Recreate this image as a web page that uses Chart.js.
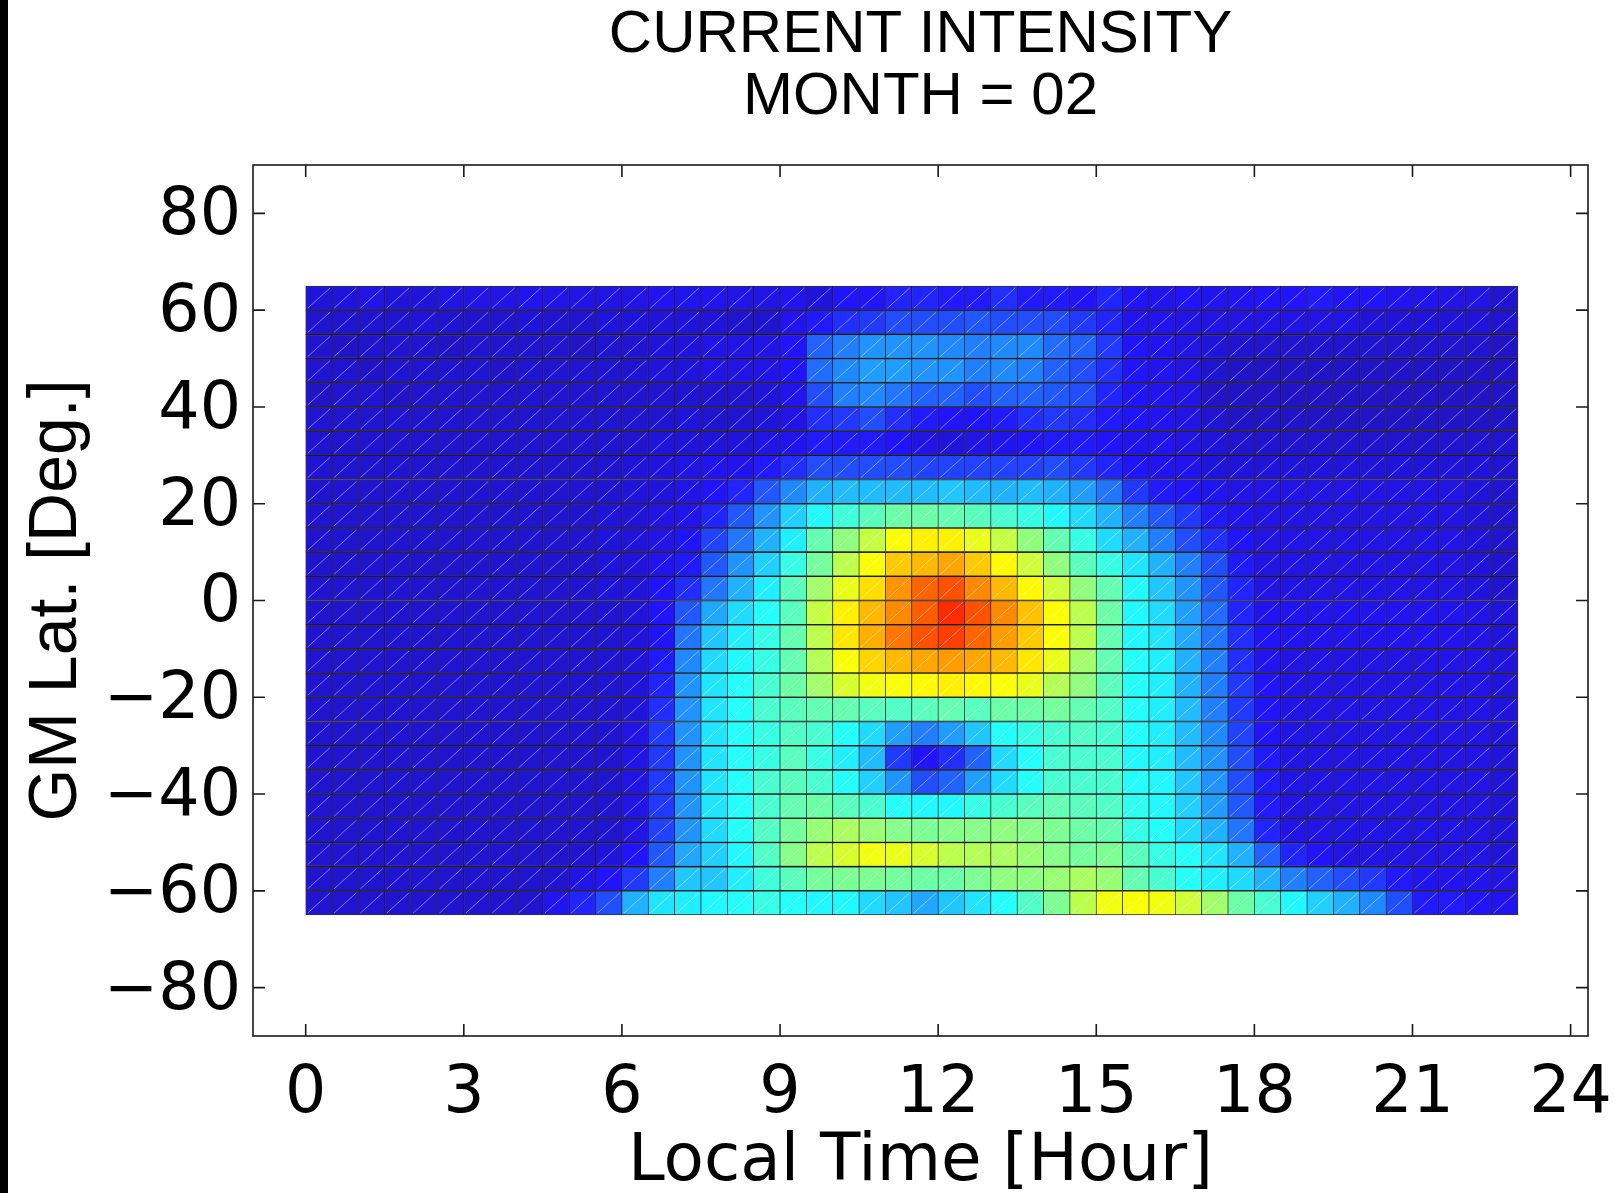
<!DOCTYPE html>
<html>
<head>
<meta charset="utf-8">
<title>Current Intensity - Month 02</title>
<script src="https://cdn.jsdelivr.net/npm/chart.js@4.4.0/dist/chart.umd.min.js"></script>
<style>
    html, body { margin: 0; padding: 0; background: #fff; }
    #wrap { position: relative; width: 1618px; height: 1193px; }
    #edge { position: absolute; left: 0; top: 0; width: 8px; height: 100%; background: #000; }
</style>
</head>
<body>
<div id="wrap">
    <canvas id="intensityChart" width="1618" height="1193"></canvas>
    <div id="edge"></div>
</div>

<script>
    // bin edges: local time (hours) and geomagnetic latitude (deg, north to south)
    var hourEdges = [0, 0.5, 1, 1.5, 2, 2.5, 3, 3.5, 4, 4.5, 5, 5.5, 6, 6.5, 7, 7.5, 8, 8.5, 9, 9.5, 10, 10.5, 11, 11.5,
        12, 12.5, 13, 13.5, 14, 14.5, 15, 15.5, 16, 16.5, 17, 17.5, 18, 18.5, 19, 19.5, 20, 20.5, 21, 21.5, 22, 22.5, 23];
    var latEdges = [65, 60, 55, 50, 45, 40, 35, 30, 25, 20, 15, 10, 5, 0, -5, -10, -15, -20, -25, -30, -35, -40, -45, -50, -55, -60, -65];

    var xTicks = [0, 3, 6, 9, 12, 15, 18, 21, 24];
    var yTicks = [-80, -60, -40, -20, 0, 20, 40, 60, 80];

    // normalised current intensity, one row per latitude band (top row = 60..65)
    var intensity = [
        [0.11,0.11,0.12,0.11,0.11,0.12,0.12,0.12,0.13,0.12,0.12,0.12,0.12,0.13,0.13, 0.13,0.12,0.12,0.13,0.11,0.14,0.14,0.16,0.16,0.15,0.15,0.17,0.15,0.15,0.14, 0.16,0.14,0.13,0.14,0.13,0.13,0.14,0.14,0.15,0.14,0.14,0.13,0.13,0.12,0.12,0.10],
        [0.10,0.10,0.10,0.10,0.11,0.10,0.10,0.10,0.11,0.10,0.10,0.11,0.11,0.11,0.11, 0.11,0.10,0.10,0.13,0.15,0.17,0.18,0.20,0.20,0.20,0.21,0.20,0.20,0.20,0.18, 0.16,0.13,0.13,0.12,0.12,0.12,0.12,0.12,0.12,0.12,0.11,0.11,0.11,0.11,0.11,0.10],
        [0.10,0.09,0.10,0.10,0.10,0.09,0.10,0.10,0.10,0.10,0.09,0.10,0.10,0.11,0.11, 0.12,0.12,0.12,0.14,0.22,0.25,0.27,0.27,0.27,0.26,0.25,0.26,0.26,0.23,0.22, 0.18,0.14,0.13,0.12,0.11,0.10,0.10,0.10,0.10,0.10,0.10,0.10,0.10,0.10,0.10,0.09],
        [0.10,0.10,0.09,0.10,0.10,0.10,0.10,0.09,0.10,0.10,0.10,0.10,0.10,0.11,0.11, 0.12,0.12,0.12,0.14,0.23,0.26,0.28,0.28,0.27,0.27,0.25,0.26,0.25,0.22,0.20, 0.17,0.14,0.13,0.12,0.10,0.09,0.09,0.09,0.09,0.09,0.09,0.09,0.09,0.09,0.09,0.09],
        [0.09,0.10,0.10,0.09,0.10,0.10,0.10,0.10,0.10,0.10,0.10,0.10,0.10,0.10,0.10, 0.10,0.10,0.11,0.13,0.20,0.25,0.26,0.24,0.22,0.22,0.20,0.22,0.22,0.21,0.20, 0.16,0.14,0.13,0.12,0.09,0.09,0.09,0.09,0.09,0.09,0.09,0.09,0.09,0.09,0.09,0.09],
        [0.10,0.10,0.10,0.10,0.10,0.10,0.10,0.10,0.10,0.10,0.10,0.10,0.10,0.10,0.11, 0.10,0.10,0.11,0.12,0.17,0.18,0.20,0.17,0.15,0.14,0.14,0.15,0.17,0.18,0.17, 0.15,0.14,0.13,0.12,0.10,0.09,0.09,0.09,0.09,0.09,0.09,0.09,0.09,0.09,0.09,0.09],
        [0.10,0.10,0.10,0.10,0.10,0.10,0.10,0.10,0.10,0.10,0.10,0.10,0.10,0.11,0.11, 0.11,0.11,0.12,0.13,0.15,0.15,0.15,0.14,0.12,0.11,0.12,0.13,0.14,0.15,0.15, 0.14,0.13,0.13,0.12,0.11,0.10,0.10,0.10,0.10,0.10,0.10,0.10,0.10,0.10,0.10,0.10],
        [0.10,0.10,0.10,0.10,0.10,0.10,0.10,0.10,0.10,0.10,0.10,0.10,0.11,0.11,0.12, 0.13,0.13,0.15,0.17,0.20,0.20,0.20,0.20,0.19,0.19,0.19,0.19,0.19,0.20,0.18, 0.16,0.14,0.13,0.13,0.11,0.11,0.11,0.11,0.11,0.11,0.11,0.11,0.11,0.11,0.11,0.10],
        [0.10,0.10,0.10,0.10,0.10,0.10,0.10,0.10,0.10,0.10,0.10,0.10,0.11,0.11,0.12, 0.14,0.16,0.21,0.26,0.30,0.31,0.31,0.31,0.31,0.32,0.31,0.30,0.31,0.30,0.28, 0.24,0.18,0.15,0.14,0.13,0.12,0.12,0.12,0.12,0.12,0.12,0.12,0.12,0.12,0.11,0.10],
        [0.10,0.10,0.10,0.10,0.10,0.10,0.10,0.10,0.10,0.10,0.10,0.11,0.11,0.12,0.13, 0.16,0.21,0.27,0.33,0.37,0.41,0.44,0.46,0.46,0.45,0.44,0.42,0.40,0.37,0.34, 0.30,0.25,0.21,0.18,0.15,0.13,0.12,0.12,0.12,0.12,0.12,0.12,0.12,0.12,0.11,0.10],
        [0.10,0.10,0.10,0.10,0.10,0.10,0.10,0.10,0.10,0.10,0.10,0.11,0.11,0.12,0.14, 0.19,0.24,0.30,0.36,0.45,0.50,0.56,0.62,0.64,0.64,0.60,0.56,0.50,0.45,0.40, 0.34,0.30,0.25,0.20,0.17,0.14,0.12,0.12,0.12,0.12,0.12,0.12,0.12,0.12,0.11,0.10],
        [0.10,0.10,0.10,0.10,0.10,0.10,0.10,0.10,0.10,0.10,0.10,0.11,0.11,0.13,0.15, 0.21,0.27,0.33,0.40,0.47,0.55,0.62,0.68,0.70,0.72,0.68,0.63,0.57,0.50,0.44, 0.40,0.35,0.30,0.25,0.20,0.15,0.12,0.12,0.12,0.12,0.12,0.12,0.12,0.12,0.11,0.10],
        [0.10,0.10,0.10,0.10,0.10,0.10,0.10,0.10,0.10,0.10,0.10,0.11,0.11,0.14,0.17, 0.24,0.30,0.36,0.44,0.52,0.60,0.66,0.74,0.79,0.81,0.75,0.70,0.63,0.57,0.50, 0.45,0.37,0.32,0.27,0.21,0.16,0.12,0.12,0.12,0.12,0.12,0.12,0.12,0.12,0.11,0.10],
        [0.10,0.10,0.10,0.10,0.10,0.10,0.10,0.10,0.10,0.10,0.10,0.10,0.11,0.14,0.21, 0.29,0.34,0.38,0.44,0.56,0.64,0.70,0.75,0.80,0.85,0.81,0.75,0.69,0.62,0.55, 0.46,0.37,0.34,0.28,0.23,0.16,0.13,0.13,0.13,0.13,0.13,0.13,0.13,0.13,0.12,0.11],
        [0.10,0.10,0.10,0.10,0.10,0.10,0.10,0.10,0.10,0.10,0.10,0.10,0.11,0.14,0.24, 0.32,0.36,0.40,0.45,0.55,0.65,0.71,0.77,0.81,0.83,0.79,0.73,0.68,0.62,0.55, 0.45,0.37,0.35,0.29,0.24,0.17,0.14,0.13,0.13,0.13,0.13,0.13,0.13,0.13,0.12,0.11],
        [0.10,0.10,0.10,0.10,0.10,0.10,0.10,0.10,0.10,0.10,0.10,0.10,0.11,0.15,0.26, 0.34,0.37,0.40,0.45,0.54,0.62,0.67,0.70,0.72,0.73,0.72,0.70,0.65,0.60,0.52, 0.45,0.38,0.36,0.30,0.25,0.17,0.13,0.12,0.12,0.12,0.12,0.12,0.12,0.12,0.12,0.11],
        [0.10,0.10,0.10,0.10,0.10,0.10,0.10,0.10,0.10,0.10,0.10,0.10,0.11,0.16,0.27, 0.35,0.38,0.42,0.46,0.52,0.58,0.61,0.62,0.63,0.64,0.63,0.62,0.60,0.54,0.50, 0.44,0.38,0.36,0.30,0.25,0.18,0.14,0.12,0.12,0.12,0.12,0.12,0.12,0.12,0.12,0.11],
        [0.10,0.10,0.10,0.10,0.10,0.10,0.10,0.10,0.10,0.10,0.10,0.10,0.11,0.17,0.27, 0.35,0.38,0.42,0.44,0.45,0.45,0.44,0.43,0.44,0.45,0.44,0.46,0.46,0.47,0.45, 0.43,0.38,0.36,0.31,0.25,0.18,0.14,0.12,0.12,0.12,0.12,0.12,0.12,0.12,0.12,0.11],
        [0.10,0.10,0.10,0.10,0.10,0.10,0.10,0.10,0.10,0.10,0.10,0.10,0.12,0.18,0.27, 0.35,0.38,0.40,0.43,0.42,0.38,0.34,0.28,0.25,0.28,0.32,0.38,0.40,0.42,0.43, 0.42,0.38,0.36,0.31,0.26,0.19,0.14,0.12,0.12,0.12,0.12,0.12,0.12,0.12,0.12,0.11],
        [0.10,0.10,0.10,0.10,0.10,0.10,0.10,0.10,0.10,0.10,0.10,0.10,0.12,0.18,0.27, 0.35,0.38,0.40,0.44,0.40,0.36,0.31,0.18,0.14,0.17,0.22,0.34,0.38,0.42,0.42, 0.42,0.37,0.36,0.31,0.27,0.20,0.15,0.12,0.12,0.12,0.12,0.12,0.12,0.12,0.12,0.11],
        [0.10,0.10,0.10,0.10,0.10,0.10,0.10,0.10,0.10,0.10,0.10,0.10,0.12,0.18,0.27, 0.35,0.38,0.42,0.44,0.42,0.38,0.33,0.27,0.20,0.22,0.28,0.34,0.38,0.42,0.42, 0.42,0.38,0.37,0.32,0.27,0.20,0.15,0.12,0.12,0.12,0.12,0.12,0.12,0.12,0.12,0.11],
        [0.10,0.10,0.10,0.10,0.10,0.10,0.10,0.10,0.10,0.10,0.10,0.10,0.12,0.18,0.27, 0.35,0.38,0.42,0.45,0.46,0.44,0.42,0.38,0.37,0.37,0.40,0.42,0.44,0.45,0.44, 0.43,0.39,0.37,0.33,0.28,0.21,0.15,0.12,0.12,0.12,0.12,0.12,0.12,0.12,0.12,0.11],
        [0.10,0.10,0.10,0.10,0.10,0.10,0.10,0.10,0.10,0.10,0.10,0.10,0.12,0.19,0.27, 0.34,0.38,0.43,0.47,0.51,0.53,0.51,0.49,0.48,0.49,0.49,0.50,0.49,0.48,0.46, 0.45,0.40,0.38,0.34,0.30,0.24,0.16,0.12,0.12,0.12,0.12,0.12,0.12,0.12,0.12,0.11],
        [0.10,0.10,0.10,0.10,0.10,0.10,0.10,0.10,0.10,0.10,0.10,0.11,0.14,0.21,0.29, 0.33,0.37,0.43,0.49,0.55,0.58,0.61,0.60,0.58,0.55,0.54,0.53,0.51,0.49,0.47, 0.48,0.44,0.40,0.38,0.35,0.30,0.22,0.16,0.14,0.12,0.12,0.12,0.12,0.12,0.12,0.11],
        [0.10,0.10,0.10,0.10,0.10,0.10,0.10,0.10,0.10,0.10,0.12,0.14,0.18,0.25,0.32, 0.32,0.36,0.41,0.44,0.47,0.48,0.48,0.47,0.46,0.46,0.48,0.50,0.50,0.51,0.53, 0.51,0.45,0.42,0.38,0.36,0.34,0.30,0.25,0.22,0.20,0.18,0.15,0.13,0.13,0.13,0.12],
        [0.10,0.10,0.10,0.10,0.10,0.10,0.10,0.10,0.10,0.13,0.16,0.20,0.30,0.35,0.36, 0.37,0.38,0.40,0.38,0.37,0.37,0.34,0.32,0.29,0.32,0.35,0.38,0.43,0.48,0.55, 0.61,0.62,0.61,0.57,0.52,0.46,0.42,0.37,0.33,0.30,0.26,0.20,0.15,0.15,0.14,0.13]
    ];

    // jet colour map; the low end is pulled a little darker and everything is
    // faintly tinted, like the scanned original
    function jet(v) {
        var t = v - 0.03 * Math.max(0, 1 - v / 0.4);
        var r = Math.min(1, Math.max(0, 1.5 - Math.abs(4 * t - 3)));
        var g = Math.min(1, Math.max(0, 1.5 - Math.abs(4 * t - 2)));
        var b = Math.min(1, Math.max(0, 1.5 - Math.abs(4 * t - 1)));
        r = r + (1 - r) * 0.13;
        g = g + (1 - g) * 0.08;
        return 'rgb(' + Math.round(r * 255) + ',' + Math.round(g * 255) + ',' + Math.round(b * 255) + ')';
    }

    var datasets = intensity.map(function (row, r) {
        return {
            label: latEdges[r + 1] + ' .. ' + latEdges[r],
            data: row.map(function (v, c) {
                return {x: (hourEdges[c] + hourEdges[c + 1]) / 2, y: [latEdges[r + 1], latEdges[r]]};
            }),
            backgroundColor: row.map(jet),
            borderColor: 'rgba(0,0,0,0.8)',
            borderWidth: {top: 1.1, bottom: 1.1, left: 0.7, right: 0.7},
            borderSkipped: false,
            grouped: false,
            barPercentage: 1,
            categoryPercentage: 1
        };
    });

    // white diagonal in every cell (the triangulated surface of the original plot)
    var cellDiagonals = {
        id: 'cellDiagonals',
        afterDatasetsDraw: function (chart) {
            var ctx = chart.ctx;
            ctx.save();
            ctx.strokeStyle = 'rgba(255,255,255,0.42)';
            ctx.lineWidth = 1;
            ctx.beginPath();
            chart.data.datasets.forEach(function (ds, i) {
                chart.getDatasetMeta(i).data.forEach(function (bar) {
                    var p = bar.getProps(['x', 'y', 'base', 'width'], true);
                    var bottom = Math.max(p.y, p.base), top = Math.min(p.y, p.base);
                    ctx.moveTo(p.x - p.width / 2 + 2, bottom - 2);
                    ctx.lineTo(p.x + p.width / 2 - 2, top + 2);
                });
            });
            ctx.stroke();
            ctx.restore();
        }
    };

    // box round the axes and inward tick marks on all four sides
    var frameTicks = {
        id: 'frameTicks',
        afterDraw: function (chart) {
            var a = chart.chartArea, ctx = chart.ctx;
            var xs = chart.scales.x, ys = chart.scales.y;
            var len = 12;
            ctx.save();
            ctx.strokeStyle = '#1a1a1a';
            ctx.lineWidth = 1.6;
            ctx.strokeRect(a.left, a.top, a.right - a.left, a.bottom - a.top);
            ctx.beginPath();
            xs.ticks.forEach(function (t, i) {
                var px = xs.getPixelForTick(i);
                ctx.moveTo(px, a.bottom); ctx.lineTo(px, a.bottom - len);
                ctx.moveTo(px, a.top); ctx.lineTo(px, a.top + len);
            });
            ys.ticks.forEach(function (t, i) {
                var py = ys.getPixelForTick(i);
                ctx.moveTo(a.left, py); ctx.lineTo(a.left + len, py);
                ctx.moveTo(a.right, py); ctx.lineTo(a.right - len, py);
            });
            ctx.stroke();
            ctx.restore();
        }
    };

    var ctx = document.getElementById('intensityChart').getContext('2d');
    new Chart(ctx, {
        type: 'bar',
        data: {datasets: datasets},
        options: {
            responsive: false,
            animation: false,
            layout: {padding: {left: 0, right: 30, top: 0, bottom: 0}},
            plugins: {
                legend: {display: false},
                tooltip: {enabled: false},
                title: {
                    display: true,
                    fullSize: false,
                    text: ['CURRENT INTENSITY', 'MONTH = 02'],
                    color: '#000',
                    font: {family: '"Liberation Sans", Arial, sans-serif', size: 60, weight: 'normal', lineHeight: 62 / 60},
                    padding: {top: 4, bottom: 37}
                }
            },
            scales: {
                x: {
                    type: 'linear',
                    min: -1,
                    max: 24.33,
                    offset: false,
                    grid: {display: false, drawTicks: false, offset: false},
                    border: {display: false},
                    afterBuildTicks: function (s) { s.ticks = xTicks.map(function (v) { return {value: v}; }); },
                    afterFit: function (s) { s.height = 157; s.paddingLeft = 0; s.paddingRight = 0; },
                    ticks: {
                        color: '#000',
                        padding: 20,
                        maxRotation: 0,
                        font: {family: '"DejaVu Sans", sans-serif', size: 65, lineHeight: 1.2}
                    },
                    title: {
                        display: true,
                        text: 'Local Time [Hour]',
                        color: '#000',
                        font: {family: '"DejaVu Sans", sans-serif', size: 66, lineHeight: 0.9},
                        padding: {top: 0, bottom: 0}
                    }
                },
                y: {
                    type: 'linear',
                    min: -90,
                    max: 90,
                    grid: {display: false, drawTicks: false},
                    border: {display: false},
                    afterBuildTicks: function (s) { s.ticks = yTicks.map(function (v) { return {value: v}; }); },
                    afterFit: function (s) { s.width = 253; s.paddingTop = 0; s.paddingBottom = 0; },
                    ticks: {
                        color: '#000',
                        padding: 12,
                        labelOffset: 4,
                        font: {family: '"DejaVu Sans", sans-serif', size: 65},
                        callback: function (v) { return v < 0 ? '\u2212' + Math.abs(v) : String(v); }
                    },
                    title: {
                        display: true,
                        text: 'GM Lat. [Deg.]',
                        color: '#000',
                        font: {family: '"Liberation Sans", Arial, sans-serif', size: 68, lineHeight: 1.2},
                        padding: {top: 16, bottom: 0}
                    }
                }
            }
        },
        plugins: [cellDiagonals, frameTicks]
    });
</script>
</body>
</html>
